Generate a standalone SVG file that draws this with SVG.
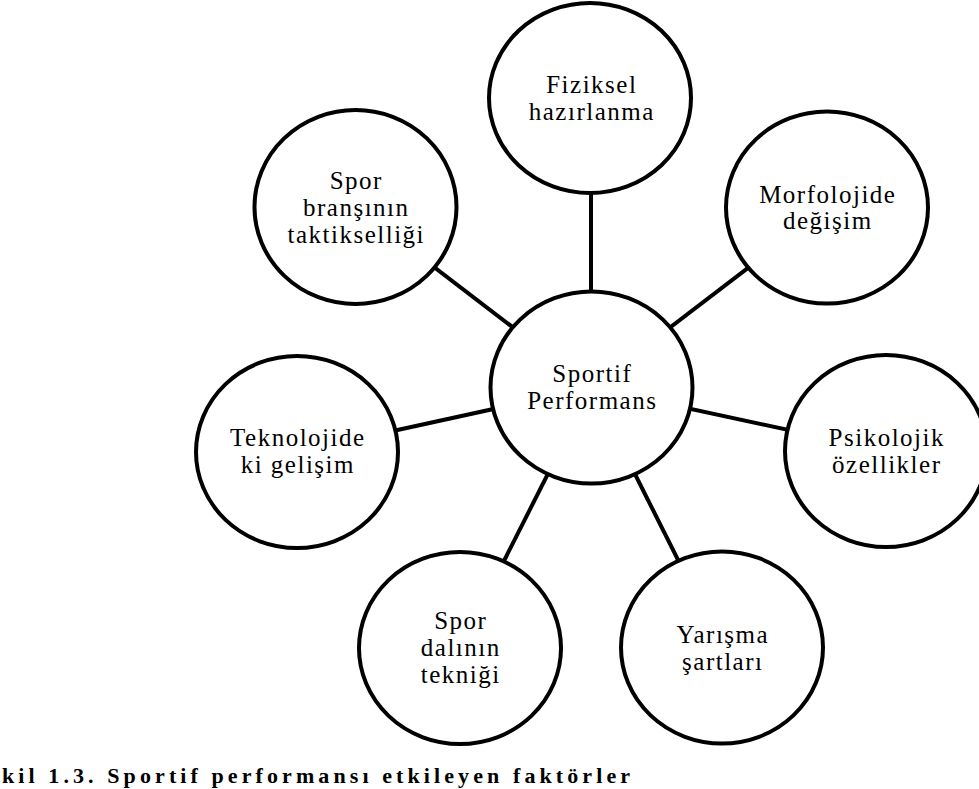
<svg xmlns="http://www.w3.org/2000/svg" width="979" height="789" viewBox="0 0 979 789">
<style>
.node{fill:#fff;stroke:#000;stroke-width:4}
.edge{stroke:#000;stroke-width:4;fill:none}
.lbl{font-family:"Liberation Serif","Times New Roman",serif;font-size:25px;letter-spacing:1.5px;text-anchor:middle;fill:#000}
.cap{font-family:"Liberation Serif","Times New Roman",serif;font-size:22px;font-weight:bold;fill:#000}
</style>
<rect width="979" height="789" fill="#fff"/>
<g id="connectors">
<line class="edge" x1="591" y1="193" x2="591" y2="292"/>
<line class="edge" x1="591.5" y1="387.5" x2="827" y2="207.5"/>
<line class="edge" x1="591.5" y1="387.5" x2="886" y2="451"/>
<line class="edge" x1="591.5" y1="387.5" x2="722" y2="647.5"/>
<line class="edge" x1="591.5" y1="387.5" x2="460" y2="648"/>
<line class="edge" x1="591.5" y1="387.5" x2="297" y2="452"/>
<line class="edge" x1="591.5" y1="387.5" x2="355.5" y2="207"/>
</g>
<g id="sportif-performans">
<ellipse class="node" cx="591.5" cy="387.5" rx="101" ry="96"/>
<text class="lbl" x="592.3" y="382">Sportif</text>
<text class="lbl" x="592.3" y="409">Performans</text>
</g>
<g id="fiziksel-hazirlanma">
<ellipse class="node" cx="590" cy="98" rx="101" ry="95"/>
<text class="lbl" x="591.8" y="93">Fiziksel</text>
<text class="lbl" x="591.8" y="120">hazırlanma</text>
</g>
<g id="morfolojide-degisim">
<ellipse class="node" cx="827" cy="207.5" rx="101" ry="96"/>
<text class="lbl" x="827.8" y="202.5">Morfolojide</text>
<text class="lbl" x="827.8" y="228.5">değişim</text>
</g>
<g id="psikolojik-ozellikler">
<ellipse class="node" cx="886" cy="451" rx="101" ry="96"/>
<text class="lbl" x="886.8" y="445.5">Psikolojik</text>
<text class="lbl" x="886.8" y="472.5">özellikler</text>
</g>
<g id="yarisma-sartlari">
<ellipse class="node" cx="722" cy="647.5" rx="101" ry="96"/>
<text class="lbl" x="722.8" y="642.5">Yarışma</text>
<text class="lbl" x="722.8" y="669.5">şartları</text>
</g>
<g id="spor-dalinin-teknigi">
<ellipse class="node" cx="460" cy="648" rx="101" ry="96"/>
<text class="lbl" x="460.8" y="628.5">Spor</text>
<text class="lbl" x="460.8" y="655.5">dalının</text>
<text class="lbl" x="460.8" y="683">tekniği</text>
</g>
<g id="teknolojide-ki-gelisim">
<ellipse class="node" cx="297" cy="452" rx="101" ry="96"/>
<text class="lbl" x="297.8" y="446">Teknolojide</text>
<text class="lbl" x="297.8" y="473">ki gelişim</text>
</g>
<g id="spor-bransinin-taktikselligi">
<ellipse class="node" cx="355.5" cy="207" rx="101" ry="97"/>
<text class="lbl" x="356.3" y="188.5">Spor</text>
<text class="lbl" x="356.3" y="215.5">branşının</text>
<text class="lbl" x="356.3" y="243">taktikselliği</text>
</g>
<text class="cap" x="2" y="783" textLength="628" lengthAdjust="spacing">kil 1.3.  Sportif performansı etkileyen faktörler</text>
</svg>
